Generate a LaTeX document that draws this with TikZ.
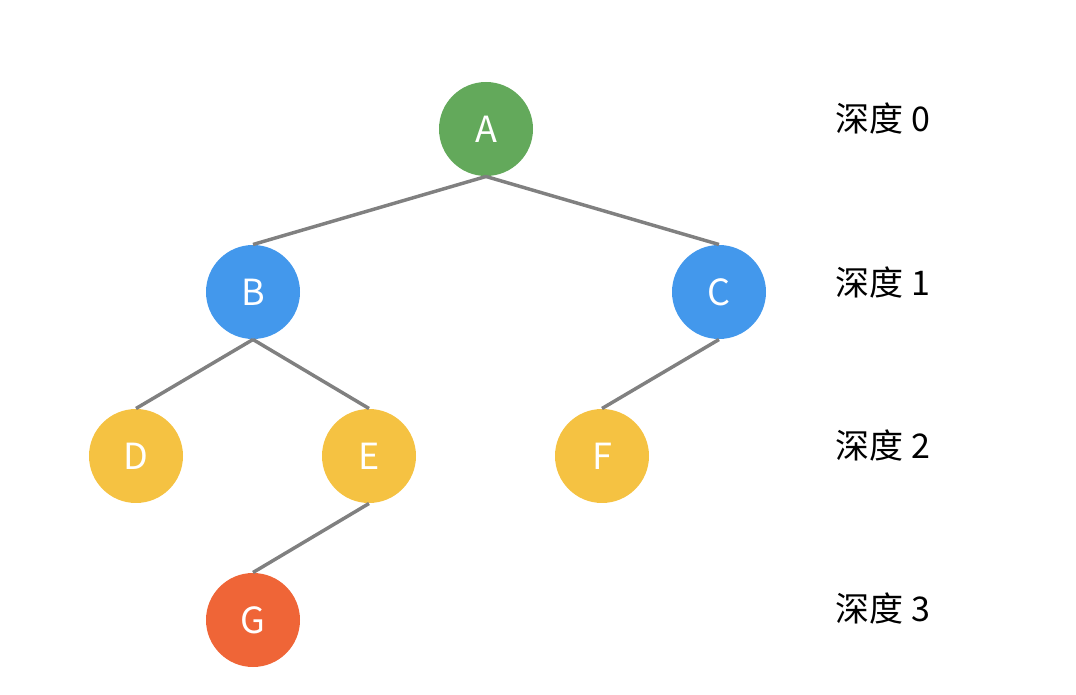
\documentclass[tikz,border=0pt]{standalone}
\usepackage{fontspec}
\setmainfont{Noto Sans CJK SC}
\definecolor{rootgreen}{HTML}{63A95B}
\definecolor{nodeblue}{HTML}{4398EC}
\definecolor{nodeyellow}{HTML}{F5C242}
\definecolor{nodeorange}{HTML}{EF6537}
\definecolor{edgegray}{HTML}{808080}
\tikzset{every picture/.style={line width=0.75pt}}
\tikzset{
  treenode/.style={circle,minimum size=70.5pt,inner sep=0pt,text=white,font=\fontsize{27}{27}\selectfont},
  treeedge/.style={draw=edgegray,line width=2.6pt},
  depthlabel/.style={anchor=west,inner sep=0pt,font=\fontsize{25.5}{25.5}\selectfont}
}

\begin{document}
\begin{tikzpicture}[x=0.75pt,y=0.75pt,yscale=-1,xscale=1]
\useasboundingbox (0,0) rectangle (1076,695);

% Tree nodes
\node [treenode,fill=rootgreen] (A) at (486,129) {A};
\node [treenode,fill=nodeblue] (B) at (253,292) {B};
\node [treenode,fill=nodeblue] (C) at (719,292) {C};
\node [treenode,fill=nodeyellow] (D) at (136,456) {D};
\node [treenode,fill=nodeyellow] (E) at (369,456) {E};
\node [treenode,fill=nodeyellow] (F) at (602,456) {F};
\node [treenode,fill=nodeorange] (G) at (253,620) {G};

% Edges
\draw [treeedge] (A.south) -- (B.north);
\draw [treeedge] (A.south) -- (C.north);
\draw [treeedge] (B.south) -- (D.north);
\draw [treeedge] (B.south) -- (E.north);
\draw [treeedge] (C.south) -- (F.north);
\draw [treeedge] (E.south) -- (G.north);

% Depth labels
\node [depthlabel] (d0) at (835,118) {深度 0};
\node [depthlabel] (d1) at (835,282) {深度 1};
\node [depthlabel] (d2) at (835,445) {深度 2};
\node [depthlabel] (d3) at (835,608) {深度 3};

\end{tikzpicture}
\end{document}
